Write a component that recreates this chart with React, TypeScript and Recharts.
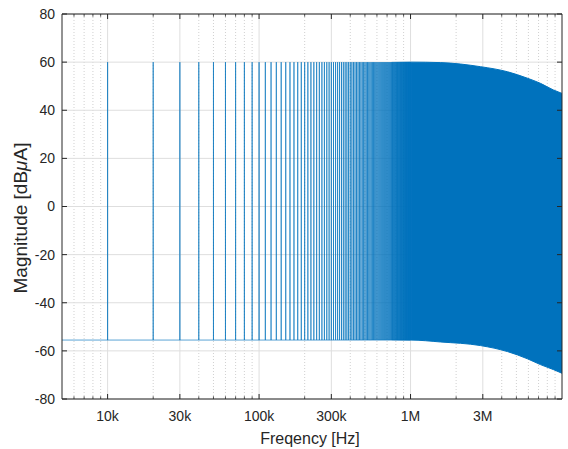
import React from 'react';
import {
  ComposedChart,
  Line,
  Area,
  XAxis,
  YAxis,
  CartesianGrid,
  ReferenceLine,
} from 'recharts';

// ---- data ----
const xDomain = [5000, 1e7];
const yDomain = [-80, 80];
const yTicks = [-80, -60, -40, -20, 0, 20, 40, 60, 80];
const xMajorTicks = [1e4, 3e4, 1e5, 3e5, 1e6, 3e6];
const xTickLabels = ['10k', '30k', '100k', '300k', '1M', '3M'];
const xMinorTicks = [
  6e3, 7e3, 8e3, 9e3,
  2e4, 4e4, 5e4, 6e4, 7e4, 8e4, 9e4,
  2e5, 4e5, 5e5, 6e5, 7e5, 8e5, 9e5,
  2e6, 4e6, 5e6, 6e6, 7e6, 8e6, 9e6,
];

// harmonic lines (kHz) that are drawn one by one
const harmonicKHz = [
  10, 20, 30, 40, 50, 60, 70, 80, 90, 100,
  110, 120, 130, 140, 150, 160, 170, 180, 190, 200,
  210, 220, 230, 240, 250, 260, 270, 280, 290, 300,
  310, 320, 330, 340, 350, 360, 370, 380, 390, 400,
  410, 420, 430, 440, 450, 460, 470, 480, 490, 500,
  510, 520, 530, 540, 550, 560, 570, 580, 590, 600,
  610, 620, 630, 640, 650, 660, 670, 680, 690, 700,
  710, 720, 730, 740, 750, 760, 770, 780, 790, 800,
  810, 820, 830, 840, 850, 860, 870, 880, 890, 900,
  910, 920, 930, 940, 950, 960, 970, 980, 990, 1000,
];
const floorDb = -55.5;
const peakDb = 60;

// dense region envelope (where the lines merge into a solid band)
const bandFreqHz = [7.5e5, 1e6, 1.58e6, 2.9e6, 4.37e6, 5.92e6, 7.2e6, 8.8e6, 1e7];
const bandTopDb = [60, 60, 59.8, 58.1, 56.0, 53.3, 51.2, 48.4, 47.0];
const bandBottomDb = [-55.5, -55.5, -56.3, -57.8, -60.3, -63.3, -65.7, -67.8, -69.3];

// ---- series built from the arrays ----
const spikeData: { f: number; v: number }[] = [{ f: xDomain[0], v: floorDb }];
harmonicKHz.forEach((k) => {
  const f = k * 1000;
  spikeData.push({ f, v: floorDb });
  spikeData.push({ f, v: peakDb });
  spikeData.push({ f, v: floorDb });
});
const bandData = bandFreqHz.map((f, i) => ({ f, range: [bandBottomDb[i], bandTopDb[i]] }));

const BLUE = '#0072BD';
const AXIS = '#262626';
const FONT = '"Liberation Sans", Arial, sans-serif';

// tick mark lengths (px) converted to data units
const PX_PER_DECADE = 151.5;
const PX_PER_DB = 385 / 160;
const xTickLen = (px: number) => Math.pow(10, px / PX_PER_DECADE);
const yTickLen = (px: number) => px / PX_PER_DB;

const fmt = (v: number) => {
  const i = xMajorTicks.indexOf(v);
  return i >= 0 ? xTickLabels[i] : '';
};

export default function App() {
  return (
    <div style={{ position: 'absolute', left: 0, top: 0, background: '#fff' }}>
      <ComposedChart
        width={568}
        height={449}
        margin={{ top: 14, right: 6, bottom: 0, left: 0 }}
      >
        <defs>
          <linearGradient id="bandGrad" x1="0" y1="0" x2="1" y2="0">
            <stop offset="0" stopColor={BLUE} stopOpacity={0.25} />
            <stop offset="0.12" stopColor={BLUE} stopOpacity={1} />
            <stop offset="1" stopColor={BLUE} stopOpacity={1} />
          </linearGradient>
        </defs>
        <CartesianGrid
          horizontal={false}
          verticalValues={xMinorTicks}
          stroke="#c4c4c4"
          strokeWidth={0.8}
          strokeDasharray="1 2"
        />
        <CartesianGrid
          horizontalValues={yTicks}
          verticalValues={xMajorTicks}
          stroke="#dedede"
          strokeWidth={1}
        />
        <XAxis
          dataKey="f"
          type="number"
          scale="log"
          domain={xDomain}
          allowDataOverflow
          ticks={xMajorTicks}
          tickFormatter={fmt}
          tickLine={false}
          tickSize={0}
          tickMargin={12}
          height={50}
          axisLine={{ stroke: AXIS, strokeWidth: 1 }}
          tick={{ fill: AXIS, fontSize: 14, fontFamily: FONT }}
          interval={0}
        />
        <YAxis
          type="number"
          domain={yDomain}
          ticks={yTicks}
          allowDataOverflow
          tickLine={false}
          tickSize={0}
          tickMargin={7}
          width={62}
          axisLine={{ stroke: AXIS, strokeWidth: 1 }}
          tick={{ fill: AXIS, fontSize: 14, fontFamily: FONT }}
          interval={0}
        />
        <Line
          data={spikeData}
          dataKey="v"
          type="linear"
          stroke={BLUE}
          strokeWidth={0.65}
          dot={false}
          activeDot={false}
          isAnimationActive={false}
        />
        <Area
          data={bandData}
          dataKey="range"
          type="monotone"
          stroke="url(#bandGrad)"
          strokeWidth={1}
          fill="url(#bandGrad)"
          fillOpacity={1}
          dot={false}
          activeDot={false}
          isAnimationActive={false}
        />
        {/* box */}
        <ReferenceLine y={80} stroke={AXIS} strokeWidth={1} />
        <ReferenceLine x={1e7} stroke={AXIS} strokeWidth={1} />
        {/* inward tick marks */}
        {xMajorTicks.map((f) => (
          <ReferenceLine key={'tb' + f} segment={[{ x: f, y: -80 }, { x: f, y: -80 + yTickLen(5) }]} stroke={AXIS} strokeWidth={1} />
        ))}
        {xMajorTicks.map((f) => (
          <ReferenceLine key={'tt' + f} segment={[{ x: f, y: 80 }, { x: f, y: 80 - yTickLen(5) }]} stroke={AXIS} strokeWidth={1} />
        ))}
        {xMinorTicks.map((f) => (
          <ReferenceLine key={'mb' + f} segment={[{ x: f, y: -80 }, { x: f, y: -80 + yTickLen(2.7) }]} stroke={AXIS} strokeWidth={0.8} />
        ))}
        {xMinorTicks.map((f) => (
          <ReferenceLine key={'mt' + f} segment={[{ x: f, y: 80 }, { x: f, y: 80 - yTickLen(2.7) }]} stroke={AXIS} strokeWidth={0.8} />
        ))}
        {yTicks.map((v) => (
          <ReferenceLine key={'yl' + v} segment={[{ x: xDomain[0], y: v }, { x: xDomain[0] * xTickLen(5), y: v }]} stroke={AXIS} strokeWidth={1} />
        ))}
        {yTicks.map((v) => (
          <ReferenceLine key={'yr' + v} segment={[{ x: xDomain[1] / xTickLen(5), y: v }, { x: xDomain[1], y: v }]} stroke={AXIS} strokeWidth={1} />
        ))}
      </ComposedChart>
      <svg
        width={568}
        height={449}
        style={{ position: 'absolute', left: 0, top: 0, pointerEvents: 'none' }}
      >
        <text x={310} y={444} textAnchor="middle" fill={AXIS} fontSize={16} fontFamily={FONT}>
          Freqency [Hz]
        </text>
        <text
          x={0}
          y={0}
          transform="translate(27 218) rotate(-90)"
          textAnchor="middle"
          fill={AXIS}
          fontSize={19}
          fontFamily={FONT}
        >
          Magnitude [dB<tspan fontStyle="italic">μ</tspan>A]
        </text>
      </svg>
    </div>
  );
}
